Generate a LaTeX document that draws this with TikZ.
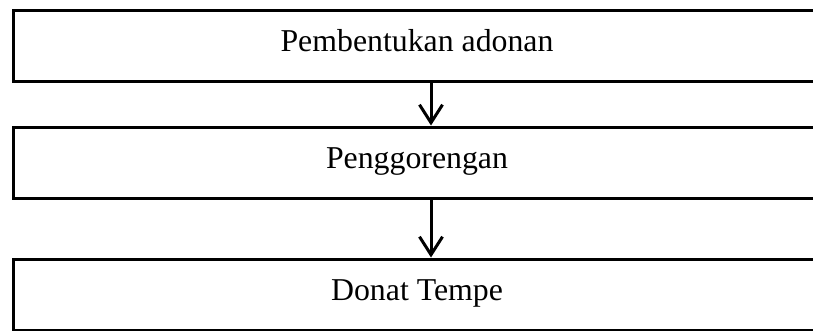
\documentclass[tikz,border=0pt]{standalone}
\usepackage{fontspec}
\setmainfont{Liberation Serif}
\usetikzlibrary{arrows.meta}
\begin{document}
\begin{tikzpicture}[x=1pt,y=-1pt,
  stepbox/.style={draw=black, line width=3pt, rectangle, inner sep=0pt,
    minimum width=808pt, minimum height=71pt,
    text height=19pt, text depth=8pt,
    font=\fontsize{31.8}{38}\selectfont},
  flow/.style={draw=black, line width=3pt,
    -{Straight Barb[length=18pt,width=23pt,line width=3pt]}}]
  \useasboundingbox (0,0) rectangle (813,330);
  \clip (0,0) rectangle (813,330);
  % process steps
  \node[stepbox] (b1) at (417,45.5) {Pembentukan adonan};
  \node[stepbox] (b2) at (417,162.5) {Penggorengan};
  \node[stepbox] (b3) at (417,294.5) {Donat Tempe};
  % flow arrows
  \draw[flow] ([xshift=14pt]b1.south) -- ([xshift=14pt]b2.north);
  \draw[flow] ([xshift=14pt]b2.south) -- ([xshift=14pt]b3.north);
\end{tikzpicture}
\end{document}
